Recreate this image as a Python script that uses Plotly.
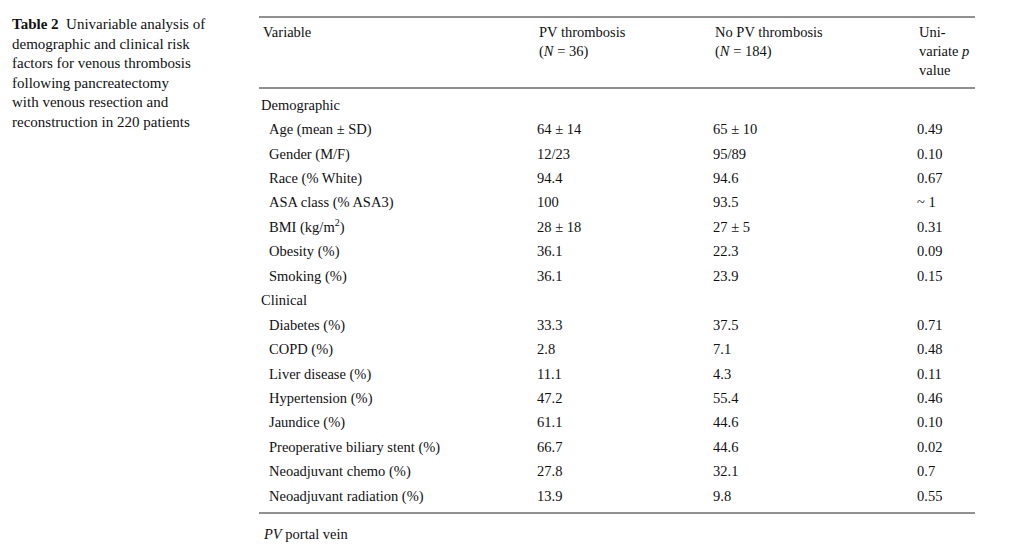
import plotly.graph_objects as go

variables = [
    "Demographic", "Age (mean ± SD)", "Gender (M/F)", "Race (% White)", "ASA class (% ASA3)",
    "BMI (kg/m<sup>2</sup>)", "Obesity (%)", "Smoking (%)", "Clinical", "Diabetes (%)",
    "COPD (%)", "Liver disease (%)", "Hypertension (%)", "Jaundice (%)",
    "Preoperative biliary stent (%)", "Neoadjuvant chemo (%)", "Neoadjuvant radiation (%)",
]
is_group = [True, False, False, False, False, False, False, False, True,
            False, False, False, False, False, False, False, False]
pv_thrombosis = ["", "64 ± 14", "12/23", "94.4", "100", "28 ± 18", "36.1", "36.1", "",
                 "33.3", "2.8", "11.1", "47.2", "61.1", "66.7", "27.8", "13.9"]
no_pv_thrombosis = ["", "65 ± 10", "95/89", "94.6", "93.5", "27 ± 5", "22.3", "23.9", "",
                    "37.5", "7.1", "4.3", "55.4", "44.6", "44.6", "32.1", "9.8"]
p_values = ["", "0.49", "0.10", "0.67", "~ 1", "0.31", "0.09", "0.15", "",
            "0.71", "0.48", "0.11", "0.46", "0.10", "0.02", "0.7", "0.55"]

headers = ["Variable", "PV thrombosis<br>(<i>N</i> = 36)", "No PV thrombosis<br>(<i>N</i> = 184)",
           "Uni-<br>variate <i>p</i><br>value"]
caption = ("<b>Table 2</b>  Univariable analysis of<br>demographic and clinical risk<br>"
           "factors for venous thrombosis<br>following pancreatectomy<br>"
           "with venous resection and<br>reconstruction in 220 patients")
footnote = "<i>PV</i> portal vein"

serif = dict(family="Liberation Serif", size=14.5, color="#111")
row_y = [98 + i * 24.45 for i in range(len(variables))]

fig = go.Figure()
fig.add_trace(go.Scatter(x=[253 if g else 261 for g in is_group], y=row_y, text=variables,
                         mode="text", textposition="middle right", textfont=serif))
for x, col in [(529, pv_thrombosis), (705, no_pv_thrombosis), (909, p_values)]:
    fig.add_trace(go.Scatter(x=[x] * len(col), y=row_y, text=col, mode="text",
                             textposition="middle right", textfont=serif))

for x, h in zip([253, 529, 705, 909], headers):
    fig.add_annotation(x=x, y=14, text=h, showarrow=False, xanchor="left", yanchor="top",
                       align="left", font=serif)
fig.add_annotation(x=2, y=6, text=caption, showarrow=False, xanchor="left", yanchor="top",
                   align="left", font=dict(family="Liberation Serif", size=15, color="#111"))
fig.add_annotation(x=253, y=526, text=footnote, showarrow=False, xanchor="left",
                   yanchor="middle", font=serif)

for y in [9, 80, 505]:
    fig.add_shape(type="line", x0=251, x1=967, y0=y, y1=y, line=dict(color="#222", width=1))

fig.update_layout(
    width=1023, height=556, margin=dict(l=0, r=0, t=0, b=0), showlegend=False,
    plot_bgcolor="white", paper_bgcolor="white",
    xaxis=dict(range=[0, 1023], visible=False, fixedrange=True),
    yaxis=dict(range=[556, 0], visible=False, fixedrange=True),
)
fig.write_html("out.html")
